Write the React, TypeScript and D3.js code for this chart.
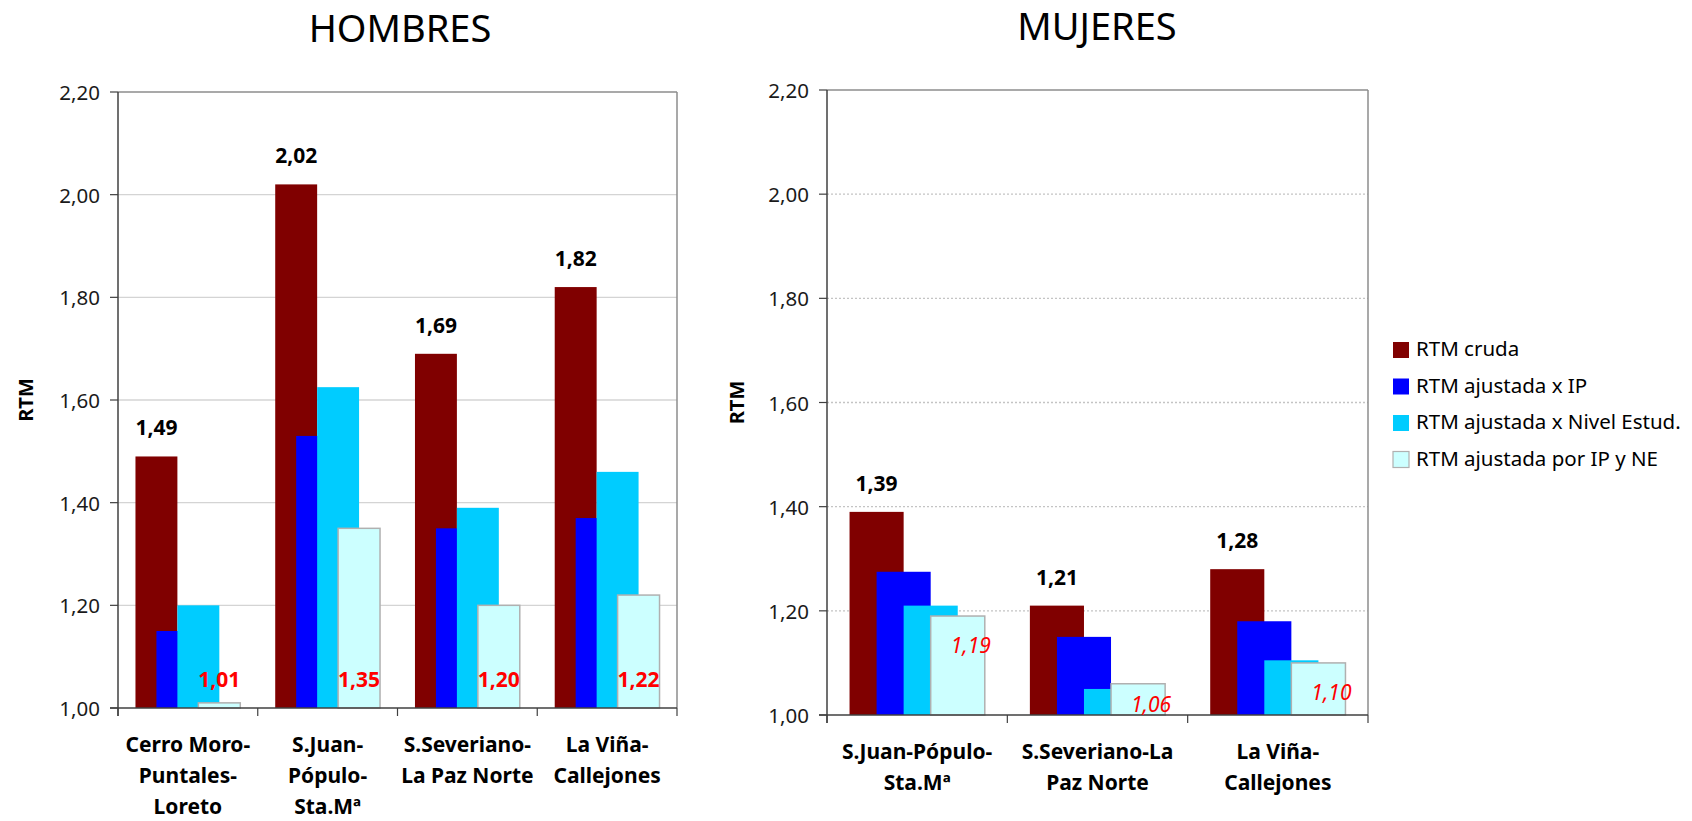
import * as d3 from "d3";

// data
const hombresCats = [
  ["Cerro Moro-", "Puntales-", "Loreto"],
  ["S.Juan-", "Pópulo-", "Sta.Mª"],
  ["S.Severiano-", "La Paz Norte"],
  ["La Viña-", "Callejones"],
];
const hCruda = [1.49, 2.02, 1.69, 1.82];
const hIP = [1.15, 1.53, 1.35, 1.37];
const hNE = [1.2, 1.625, 1.39, 1.46];
const hIPNE = [1.01, 1.35, 1.2, 1.22];

const mujeresCats = [
  ["S.Juan-Pópulo-", "Sta.Mª"],
  ["S.Severiano-La", "Paz Norte"],
  ["La Viña-", "Callejones"],
];
const mCruda = [1.39, 1.21, 1.28];
const mIP = [1.275, 1.15, 1.18];
const mNE = [1.21, 1.05, 1.105];
const mIPNE = [1.19, 1.06, 1.1];

const yTicks = [1.0, 1.2, 1.4, 1.6, 1.8, 2.0, 2.2];

const seriesNames = [
  "RTM cruda",
  "RTM ajustada x IP",
  "RTM ajustada x Nivel Estud.",
  "RTM ajustada por IP y NE",
];
const colors = ["#800000", "#0000ff", "#00ccff", "#ccffff"];

const FONT = "'Noto Sans', 'Open Sans', sans-serif";
const fmt = (v: number) => v.toFixed(2).replace(".", ",");

type PanelProps = {
  title: string;
  titleX: number;
  cats: string[][];
  series: number[][];
  left: number;
  right: number;
  top: number;
  bottom: number;
  dotted: boolean;
  italicLabels: boolean;
};

const Panel = ({ title, titleX, cats, series, left, right, top, bottom, dotted, italicLabels }: PanelProps) => {
  const names = cats.map((c) => c.join(" "));
  const x = d3.scaleBand<string>().domain(names).range([left, right]).padding(0);
  const y = d3.scaleLinear().domain([1, 2.2]).range([bottom, top]);
  const bw = x.bandwidth() * 0.3;
  const step = bw / 2;
  const groupW = bw + step * 3;
  const off = (x.bandwidth() - groupW) / 2;
  const boundaries = [...names.map((n) => x(n)!), right];

  return (
    <g>
      <text x={titleX} y={top - 50} textAnchor="middle" fontSize={38} fontFamily={FONT} fill="#000">
        {title}
      </text>
      {/* gridlines */}
      {yTicks.slice(1, -1).map((t) => (
        <line key={t} x1={left} x2={right} y1={y(t)} y2={y(t)}
          stroke={dotted ? "#c4c4c4" : "#d4d4d4"} strokeWidth={1.3}
          strokeDasharray={dotted ? "2,2" : undefined} />
      ))}
      {/* frame */}
      <line x1={left} x2={right} y1={top} y2={top} stroke="#8c8c8c" strokeWidth={1.5} />
      <line x1={right} x2={right} y1={top} y2={bottom} stroke="#8c8c8c" strokeWidth={1.5} />
      {/* bars */}
      {series.map((vals, si) =>
        vals.map((v, ci) => {
          const bx = x(names[ci])! + off + si * step;
          return (
            <rect key={`${si}-${ci}`} x={bx} y={y(v)} width={bw} height={bottom - y(v)}
              fill={colors[si]} stroke={si === 3 ? "#b0b0b0" : "none"} strokeWidth={si === 3 ? 1.5 : 0} />
          );
        })
      )}
      {/* axes */}
      <line x1={left} x2={left} y1={top} y2={bottom + 8} stroke="#404040" strokeWidth={1.5} />
      <line x1={left - 8} x2={right} y1={bottom} y2={bottom} stroke="#404040" strokeWidth={1.5} />
      {yTicks.map((t) => (
        <g key={t}>
          <line x1={left - 8} x2={left} y1={y(t)} y2={y(t)} stroke="#404040" strokeWidth={1.2} />
          <text x={left - 18} y={y(t)} textAnchor="end" dominantBaseline="central"
            fontSize={20.5} fontFamily={FONT} fill="#1a1a1a">
            {fmt(t)}
          </text>
        </g>
      ))}
      {boundaries.map((b, i) => (
        <line key={i} x1={b} x2={b} y1={bottom} y2={bottom + 8} stroke="#404040" strokeWidth={1.2} />
      ))}
      {/* category labels */}
      {cats.map((lines, ci) => (
        <text key={ci} textAnchor="middle" fontSize={21} fontWeight="bold" fontFamily={FONT} fill="#000">
          {lines.map((l, li) => (
            <tspan key={li} x={x(names[ci])! + x.bandwidth() / 2} y={bottom + 36 + li * 31}
              dominantBaseline="central">
              {l}
            </tspan>
          ))}
        </text>
      ))}
      {/* value labels: crude series */}
      {series[0].map((v, ci) => (
        <text key={ci} x={x(names[ci])! + off + bw / 2} y={y(v) - 29} textAnchor="middle"
          dominantBaseline="central" fontSize={21} fontWeight="bold" fontFamily={FONT} fill="#000">
          {fmt(v)}
        </text>
      ))}
      {/* value labels: IP y NE series */}
      {series[3].map((v, ci) => {
        const cx = x(names[ci])! + off + 3 * step + bw / 2;
        return italicLabels ? (
          <text key={ci} x={cx + 13} y={Math.min(y(v) + 29, bottom - 11)} textAnchor="middle"
            dominantBaseline="central" fontSize={21} fontStyle="italic" fontFamily={FONT} fill="#ff0000">
            {fmt(v)}
          </text>
        ) : (
          <text key={ci} x={cx} y={bottom - 29} textAnchor="middle"
            dominantBaseline="central" fontSize={21} fontWeight="bold" fontFamily={FONT} fill="#ff0000">
            {fmt(v)}
          </text>
        );
      })}
      {/* y axis title */}
      <text transform={`translate(${left - (left === 118 ? 93 : 91)},${(top + bottom) / 2}) rotate(-90)`}
        textAnchor="middle" dominantBaseline="central" fontSize={20} fontWeight="bold" fontFamily={FONT} fill="#000">
        RTM
      </text>
    </g>
  );
};

export default function App() {
  return (
    <svg width={1692} height={821} style={{ position: "absolute", left: 0, top: 0, background: "#fff" }}>
      <rect width={1692} height={821} fill="#fff" />
      <Panel title="HOMBRES" titleX={400} cats={hombresCats} series={[hCruda, hIP, hNE, hIPNE]}
        left={118} right={677} top={92} bottom={708} dotted={false} italicLabels={false} />
      <Panel title="MUJERES" titleX={1097} cats={mujeresCats} series={[mCruda, mIP, mNE, mIPNE]}
        left={827} right={1368} top={90} bottom={715} dotted={true} italicLabels={true} />
      {/* legend */}
      {seriesNames.map((n, i) => (
        <g key={n} transform={`translate(1393,${350 + i * 36.5})`}>
          <rect x={0} y={-8} width={16} height={16} fill={colors[i]}
            stroke={i === 3 ? "#b0b0b0" : "none"} strokeWidth={1.2} />
          <text x={23} y={-2} dominantBaseline="central" fontSize={20.5} fontFamily={FONT} fill="#000">
            {n}
          </text>
        </g>
      ))}
    </svg>
  );
}
